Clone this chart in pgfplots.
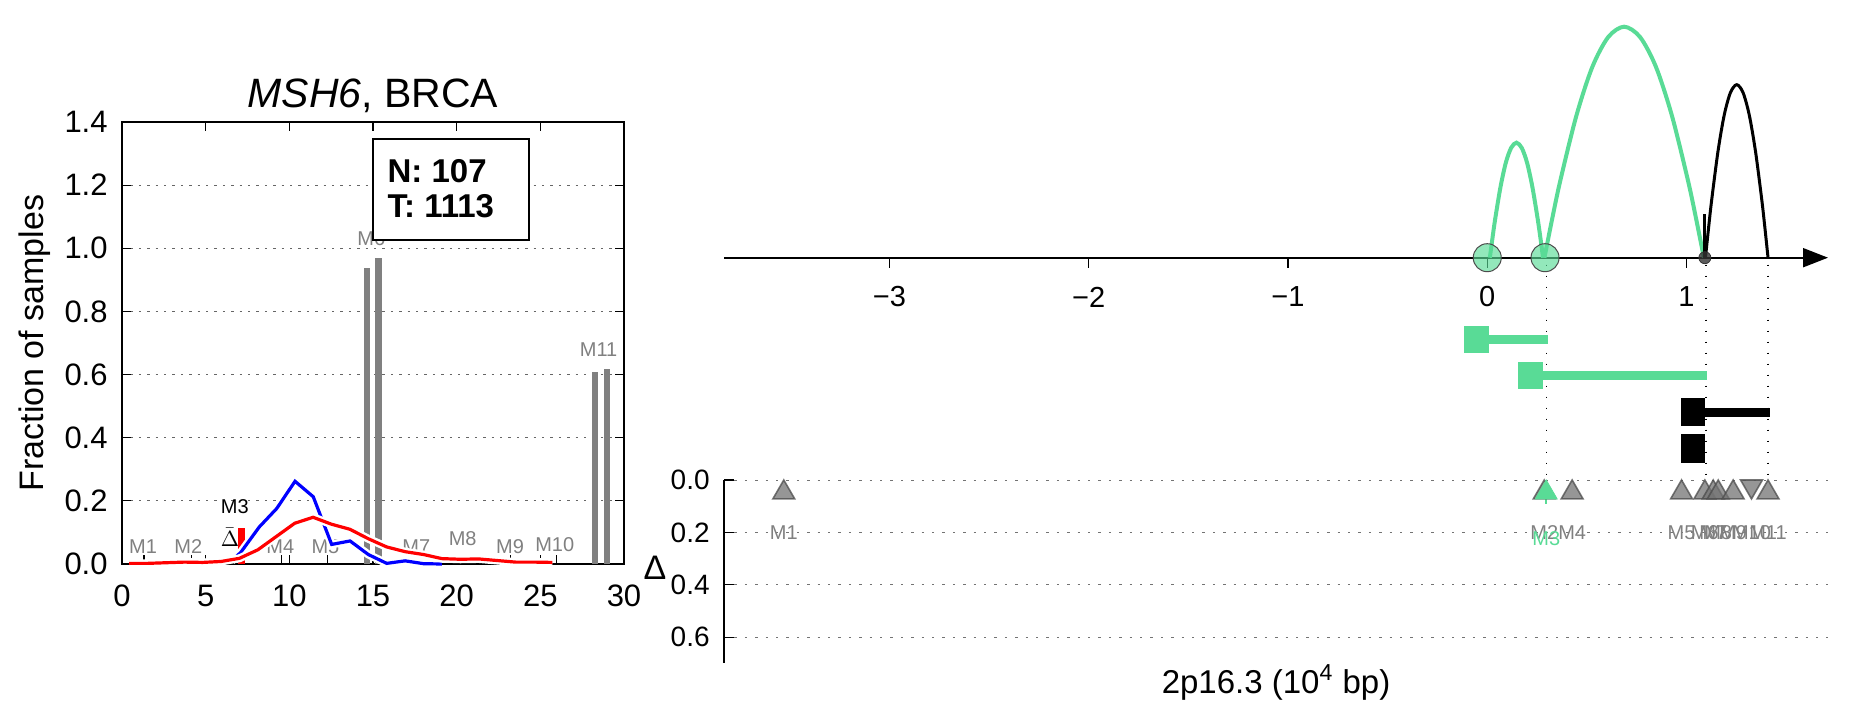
\documentclass[border=0pt]{standalone}
\usepackage{fontspec}
\setmainfont{Liberation Sans}
\usepackage{pgfplots}
\pgfplotsset{compat=1.18}
\usetikzlibrary{arrows.meta}
\definecolor{mgreen}{RGB}{89,219,150}
\definecolor{mgray}{RGB}{128,128,128}
\newcommand\fs[1]{\fontsize{#1}{#1}\selectfont}
\begin{document}
\begin{tikzpicture}
\path[use as bounding box] (0,0) rectangle (925.5pt,359pt);

% ---------------- left panel ----------------
\begin{axis}[at={(61pt,77pt)}, anchor=south west, width=251pt, height=221pt, scale only axis,
  xmin=0, xmax=30, ymin=0, ymax=1.4, clip=false,
  xtick={0,5,10,15,20,25,30}, xticklabels={0,5,10,15,20,25,30},
  ytick={0,0.2,0.4,0.6,0.8,1.0,1.2,1.4}, yticklabels={0.0,0.2,0.4,0.6,0.8,1.0,1.2,1.4},
  tick align=inside, major tick length=4.5pt, tick style={black, line width=0.6pt},
  ymajorgrids, grid style={black!60, dash pattern=on 1.2pt off 3pt, line width=0.5pt},
  axis line style={line width=1.3pt},
  ticklabel style={font=\fs{15.5}},
  xticklabel style={anchor=center, yshift=-16pt},
  yticklabel style={anchor=east, inner sep=0pt, xshift=-7pt},
  ylabel={Fraction of samples},
  ylabel style={font=\fs{17}, at={(axis description cs:-0.173,0.5)}, anchor=center},
  title={\textit{MSH6}, BRCA},
  title style={font=\fs{20.5}, at={(axis description cs:0.5,1)}, anchor=center, yshift=7pt}]
% site ticks on the baseline
\addplot[ycomb, black, line width=0.6pt] coordinates {(1.31,0.03) (4.17,0.03) (9.54,0.03) (12.3,0.03) (20.4,0.03) (23.2,0.03) (25.98,0.03)};
% grey bars
\addplot[ycomb, mgray, line width=3.4pt] coordinates {(14.64,0.938) (15.34,0.970) (28.27,0.607) (28.98,0.618)};
% red bar at M3
\addplot[ycomb, red, line width=3.4pt] coordinates {(7.12,0.115)};
% labels
\node[mgray, font=\fs{10}] at (axis cs:1.26,0.054) {M1};
\node[mgray, font=\fs{10}] at (axis cs:3.96,0.054) {M2};
\node[black, font=\fs{10}] at (axis cs:6.74,0.182) {M3};
\node[mgray, font=\fs{10}] at (axis cs:9.46,0.054) {M4};
\node[mgray, font=\fs{10}] at (axis cs:12.16,0.054) {M5};
\node[mgray, font=\fs{10}] at (axis cs:14.9,1.03) {M6};
\node[mgray, font=\fs{10}] at (axis cs:17.59,0.054) {M7};
\node[mgray, font=\fs{10}] at (axis cs:20.36,0.079) {M8};
\node[mgray, font=\fs{10}] at (axis cs:23.19,0.054) {M9};
\node[mgray, font=\fs{10}] at (axis cs:25.86,0.06) {M10};
\node[mgray, font=\fs{10}] at (axis cs:28.48,0.68) {M11};
\node[black, font=\fs{11}] at (axis cs:6.45,0.084) {$\bar{\Delta}$};
% blue curve
\addplot[white, line width=4pt] coordinates {(6.55,0.010) (7.1,0.037) (8.2,0.117) (9.25,0.176) (10.34,0.262) (11.43,0.213) (12.53,0.062) (13.63,0.073) (14.72,0.030) (15.82,0.002) (16.92,0.010) (18.02,0.001) (19.12,0.0)};
\addplot[blue, line width=1.6pt] coordinates {(6.55,0.010) (7.1,0.037) (8.2,0.117) (9.25,0.176) (10.34,0.262) (11.43,0.213) (12.53,0.062) (13.63,0.073) (14.72,0.030) (15.82,0.002) (16.92,0.010) (18.02,0.001) (19.12,0.0)};
% red curve
\addplot[white, line width=4pt] coordinates {(0.43,0.002) (1.53,0.002) (2.62,0.004) (3.72,0.006) (4.82,0.005) (5.92,0.008) (7.02,0.018) (8.12,0.045) (9.22,0.087) (10.32,0.129) (11.42,0.148) (12.52,0.126) (13.62,0.110) (14.72,0.080) (15.82,0.054) (16.92,0.039) (18.02,0.030) (19.12,0.017) (20.22,0.015) (21.32,0.016) (22.42,0.011) (23.52,0.006) (24.62,0.006) (25.72,0.005)};
\addplot[red, line width=1.6pt] coordinates {(0.43,0.002) (1.53,0.002) (2.62,0.004) (3.72,0.006) (4.82,0.005) (5.92,0.008) (7.02,0.018) (8.12,0.045) (9.22,0.087) (10.32,0.129) (11.42,0.148) (12.52,0.126) (13.62,0.110) (14.72,0.080) (15.82,0.054) (16.92,0.039) (18.02,0.030) (19.12,0.017) (20.22,0.015) (21.32,0.016) (22.42,0.011) (23.52,0.006) (24.62,0.006) (25.72,0.005)};
% N/T box
\draw[line width=1pt, fill=white] (axis cs:15.0,1.026) rectangle (axis cs:24.33,1.346);
\node[anchor=west, align=left, font=\bfseries\fs{16.5}, inner sep=0pt] at (axis cs:15.85,1.19) {N: 107\\[1pt] T: 1113};
\end{axis}

% ---------------- upper right panel ----------------
\begin{axis}[at={(362pt,119pt)}, anchor=south west, width=552pt, height=240pt, scale only axis,
  xmin=-3.83, xmax=1.71, ymin=-222.3, ymax=257.7, clip=false,
  axis x line=middle, axis y line=none,
  x axis line style={line width=1pt, -{Triangle[length=12.5pt, width=9.5pt]}},
  xtick={-3,-2,-1,0,1}, xticklabels={−3,−2,−1,0,1}, xtick style={draw=none},
  xticklabel style={font=\fs{14.5}, anchor=center, yshift=-17.5pt}]
% tick marks
\addplot[ycomb, black, line width=0.6pt] coordinates {(-3,-10) (-2,-10) (-1,-10) (0,-10) (1,-10)};
% dotted guides
\addplot[black, line width=0.7pt, dash pattern=on 0.8pt off 4.7pt] coordinates {(0.298,-7) (0.298,-217)};
\addplot[black, line width=0.7pt, dash pattern=on 0.8pt off 4.7pt] coordinates {(1.098,-7) (1.098,-217)};
\addplot[black, line width=0.7pt, dash pattern=on 0.8pt off 4.7pt] coordinates {(1.409,-7) (1.409,-217)};
% arcs
\addplot[mgreen, line width=2pt, smooth] coordinates {(0.013,0) (0.0264,19.9) (0.0397,38.5) (0.0664,70.6) (0.0931,94.9) (0.1198,109.8) (0.1465,115) (0.1732,109.8) (0.1999,94.9) (0.2266,70.6) (0.2533,38.5) (0.2667,19.9) (0.28,0)};
\addplot[mgreen, line width=2pt, smooth] coordinates {(0.287,0) (0.327,40.0) (0.367,77.4) (0.447,141.8) (0.527,190.6) (0.607,220.6) (0.687,231) (0.767,220.6) (0.847,190.6) (0.927,141.8) (1.007,77.4) (1.047,40.0) (1.087,0)};
\addplot[black, line width=1.5pt, smooth] coordinates {(1.095,0) (1.1107,29.9) (1.1264,58.0) (1.1578,106.2) (1.1892,142.7) (1.2206,165.2) (1.252,173) (1.2834,165.2) (1.3148,142.7) (1.3462,106.2) (1.3776,58.0) (1.3933,29.9) (1.409,0)};
\addplot[black, line width=1.5pt] coordinates {(1.092,0) (1.092,44)};
% site markers on the axis
\addplot[only marks, mark=*, mark size=7pt, mark options={fill=mgreen, fill opacity=0.65, draw=black!70, line width=0.5pt}] coordinates {(0,0) (0.29,0)};
\addplot[only marks, mark=*, mark size=3pt, mark options={fill=black!80, fill opacity=0.8, draw=black!80}] coordinates {(1.092,0)};
% interval bars
\addplot[fill=mgreen, draw=none] coordinates {(-0.117,-68.3) (0.009,-68.3) (0.009,-95.6) (-0.117,-95.6)};
\addplot[fill=mgreen, draw=none] coordinates {(0.009,-77.3) (0.303,-77.3) (0.303,-86.6) (0.009,-86.6)};
\addplot[fill=mgreen, draw=none] coordinates {(0.154,-104.3) (0.278,-104.3) (0.278,-131.6) (0.154,-131.6)};
\addplot[fill=mgreen, draw=none] coordinates {(0.278,-113.3) (1.105,-113.3) (1.105,-122.6) (0.278,-122.6)};
\addplot[fill=black, draw=none] coordinates {(0.971,-140.6) (1.095,-140.6) (1.095,-168) (0.971,-168)};
\addplot[fill=black, draw=none] coordinates {(1.095,-150) (1.418,-150) (1.418,-159) (1.095,-159)};
\addplot[fill=black, draw=none] coordinates {(0.971,-176.6) (1.095,-176.6) (1.095,-205) (0.971,-205)};
\end{axis}

% ---------------- lower right panel ----------------
\begin{axis}[at={(362pt,27.3pt)}, anchor=south west, width=552pt, height=91.7pt, scale only axis,
  xmin=-3.83, xmax=1.71, ymin=0, ymax=0.7, y dir=reverse, clip=false,
  axis y line=left, axis x line=none, y axis line style={-, line width=1pt},
  ytick={0,0.2,0.4,0.6}, yticklabels={0.0,0.2,0.4,0.6},
  tick align=inside, major tick length=5pt, ytick style={line width=0.6pt, black},
  yticklabel style={font=\fs{14}, anchor=east, inner sep=0pt, xshift=-7pt},
  ymajorgrids, grid style={black!55, dash pattern=on 1.2pt off 4pt, line width=0.5pt}]
\addplot[mgreen, line width=1pt] coordinates {(0.296,0.0) (0.296,0.09)};
\addplot[only marks, mark=triangle*, mark size=6.3pt, mark options={fill=black!55, draw=black!70, fill opacity=0.75, draw opacity=0.75, line width=0.8pt}] coordinates {(-3.53,0.048) (0.286,0.048) (0.426,0.048) (0.975,0.048) (1.092,0.048) (1.134,0.048) (1.159,0.048) (1.234,0.048) (1.409,0.048)};
\addplot[only marks, mark=triangle*, mark size=6.3pt, mark options={rotate=180, fill=black!55, draw=black!70, fill opacity=0.75, draw opacity=0.75, line width=0.8pt}] coordinates {(1.326,0.024)};
\addplot[only marks, mark=triangle*, mark size=6.3pt, mark options={fill=mgreen, draw=mgreen}] coordinates {(0.296,0.048)};
\node[mgray, font=\fs{10}] at (axis cs:-3.53,0.2) {M1};
\node[mgray, font=\fs{10}] at (axis cs:0.286,0.2) {M2};
\node[mgreen, font=\fs{10}] at (axis cs:0.296,0.225) {M3};
\node[mgray, font=\fs{10}] at (axis cs:0.426,0.2) {M4};
\node[mgray, font=\fs{10}] at (axis cs:0.975,0.2) {M5};
\node[mgray, font=\fs{10}] at (axis cs:1.092,0.2) {M6};
\node[mgray, font=\fs{10}] at (axis cs:1.134,0.2) {M7};
\node[mgray, font=\fs{10}] at (axis cs:1.159,0.2) {M8};
\node[mgray, font=\fs{10}] at (axis cs:1.234,0.2) {M9};
\node[mgray, font=\fs{10}] at (axis cs:1.326,0.2) {M10};
\node[mgray, font=\fs{10}] at (axis cs:1.409,0.2) {M11};
\node[font=\fs{17}] at (axis description cs:-0.0625,0.52) {Δ};
\node[font=\fs{16.5}, yshift=-9.5pt] at (axis description cs:0.5,0) {2p16.3 (10\textsuperscript{4} bp)};
\end{axis}
\end{tikzpicture}
\end{document}
